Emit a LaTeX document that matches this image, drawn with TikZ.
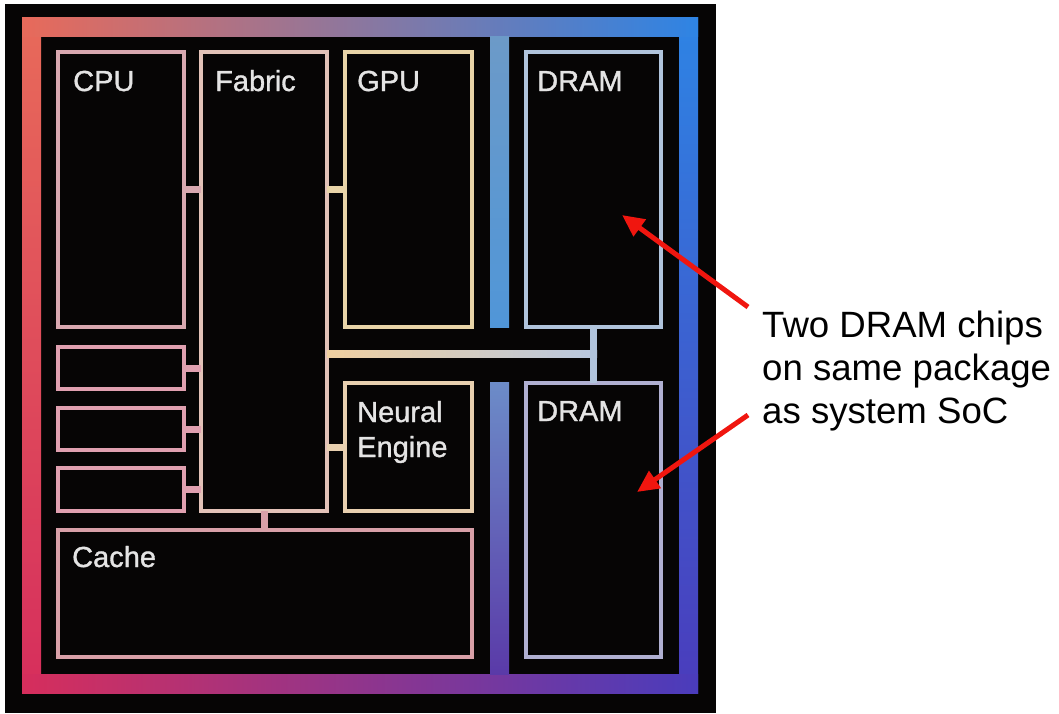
\documentclass[tikz,border=0pt]{standalone}
\usepackage{fontspec}
\setmainfont{Liberation Sans}
\newfontfamily\lblfont[FakeBold=1.2]{Liberation Sans}
\usetikzlibrary{arrows.meta,calc}
\definecolor{chipbg}{HTML}{060505}
\definecolor{fTL}{HTML}{E86A5A}
\definecolor{fTM}{HTML}{C4A08C}
\definecolor{fTR}{HTML}{2E84E4}
\definecolor{fBL}{HTML}{D62E5C}
\definecolor{fBM}{HTML}{7A2898}
\definecolor{fBR}{HTML}{4A3CBC}
\definecolor{fLM}{HTML}{E0506A}
\definecolor{fRM}{HTML}{4284D8}
\definecolor{dTa}{HTML}{6C9AC8}
\definecolor{dBa}{HTML}{5096D8}
\definecolor{dTb}{HTML}{6C8CC8}
\definecolor{dBb}{HTML}{5A3AA8}
\definecolor{cCPU}{HTML}{D8A8B0}
\definecolor{cFab}{HTML}{E2C2B8}
\definecolor{cGPU}{HTML}{E8D4A8}
\definecolor{cDramA}{HTML}{B0C4DC}
\definecolor{cDramB}{HTML}{B0B0D2}
\definecolor{cNeur}{HTML}{E8D0B0}
\definecolor{cSmall}{HTML}{E0A0B0}
\definecolor{cCache}{HTML}{D8A0A8}
\definecolor{busL}{HTML}{F0D0A0}
\definecolor{busR}{HTML}{B8C8E0}
\definecolor{lbltext}{HTML}{E4E4E4}
\definecolor{arrowred}{HTML}{F0160F}
\tikzset{
  blk/.style={rectangle, draw=#1, line width=3.2pt, inner sep=0pt, outer sep=0pt},
  lbl/.style={anchor=base west, text=lbltext, font=\lblfont\fontsize{29}{35}\selectfont, inner sep=0pt},
  link/.style={draw=#1, line width=7pt},
  note/.style={anchor=base west, text=black, font=\fontsize{36.6}{43}\selectfont, inner sep=0pt},
  callout/.style={draw=arrowred, line width=5pt, -{Triangle[length=22pt,width=20pt]}},
}
\begin{document}
\begin{tikzpicture}[x=1pt,y=-1pt]
\useasboundingbox (0,0) rectangle (1059,713);
\fill[white] (0,0) rectangle (1059,713);
\fill[chipbg] (5,4) rectangle (716,713);
% gradient frame
\shade[top color=fTL, middle color=fLM, bottom color=fBL] (22,17) rectangle (41,693);
\shade[top color=fTR, middle color=fRM, bottom color=fBR] (679,17) rectangle (698,693);
\shade[left color=fTL, middle color=fTM, right color=fTR] (22,17) rectangle (698,36);
\shade[left color=fBL, middle color=fBM, right color=fBR] (22,674) rectangle (698,693);
\shade[top color=dTa, bottom color=dBa] (490,36) rectangle (509,327);
\shade[top color=dTb, bottom color=dBb] (490,382) rectangle (509,674);
% blocks
\node[blk=cCPU, minimum width=126pt, minimum height=275pt] (cpu) at (121,189.5) {};
\node[blk=cFab, minimum width=126pt, minimum height=459pt] (fabric) at (264,281.5) {};
\node[blk=cGPU, minimum width=127pt, minimum height=275pt] (gpu) at (408.5,189.5) {};
\node[blk=cDramA, minimum width=135pt, minimum height=275pt] (dramA) at (593.5,189.5) {};
\node[blk=cDramB, minimum width=135pt, minimum height=274pt] (dramB) at (593.5,520) {};
\node[blk=cNeur, minimum width=127pt, minimum height=128pt] (neural) at (408.5,447) {};
\node[blk=cSmall, minimum width=126pt, minimum height=42pt] (s1) at (121,368) {};
\node[blk=cSmall, minimum width=126pt, minimum height=42pt] (s2) at (121,429) {};
\node[blk=cSmall, minimum width=126pt, minimum height=43pt] (s3) at (121,489.5) {};
\node[blk=cCache, minimum width=414pt, minimum height=127pt] (cache) at (265,593.5) {};
% labels
\node[lbl] at ([shift={(15pt,-39pt)}]cpu.north west) {CPU};
\node[lbl] at ([shift={(14pt,-39pt)}]fabric.north west) {Fabric};
\node[lbl] at ([shift={(12pt,-39pt)}]gpu.north west) {GPU};
\node[lbl] at ([shift={(11pt,-39pt)}]dramA.north west) {DRAM};
\node[lbl] at ([shift={(11pt,-38pt)}]dramB.north west) {DRAM};
\node[lbl] at ([shift={(12pt,-39pt)}]neural.north west) {Neural};
\node[lbl] at ([shift={(12pt,-74pt)}]neural.north west) {Engine};
\node[lbl] at ([shift={(14pt,-37pt)}]cache.north west) {Cache};
% connectors
\draw[link=cCPU] (cpu.east) -- (cpu.east -| fabric.west);
\draw[link=cGPU] (gpu.west) -- (gpu.west -| fabric.east);
\draw[link=cSmall] (s1.east) -- (s1.east -| fabric.west);
\draw[link=cSmall] (s2.east) -- (s2.east -| fabric.west);
\draw[link=cSmall] (s3.east) -- (s3.east -| fabric.west);
\draw[link=cNeur] (neural.west) -- (neural.west -| fabric.east);
\draw[link=cCache] (fabric.south) -- (fabric.south |- cache.north);
\coordinate (busy) at (0,354);
\shade[left color=busL, right color=busR] ([yshift=3.5pt]fabric.east |- busy) rectangle ([shift={(3.5pt,-3.5pt)}]dramA.south |- busy);
\draw[link=cDramA] (dramA.south) -- (dramB.north);
% note
\node[note] (t1) at (762,337) {Two DRAM chips};
\node[note] (t2) at (762,380) {on same package};
\node[note] (t3) at (762,423) {as system SoC};
\coordinate (a1) at (748,307);
\coordinate (a2) at (748,415);
\coordinate (tipA) at (622,215);
\coordinate (tipB) at (637,492);
\draw[callout] (a1) -- (tipA);
\draw[callout] (a2) -- (tipB);
\end{tikzpicture}
\end{document}
